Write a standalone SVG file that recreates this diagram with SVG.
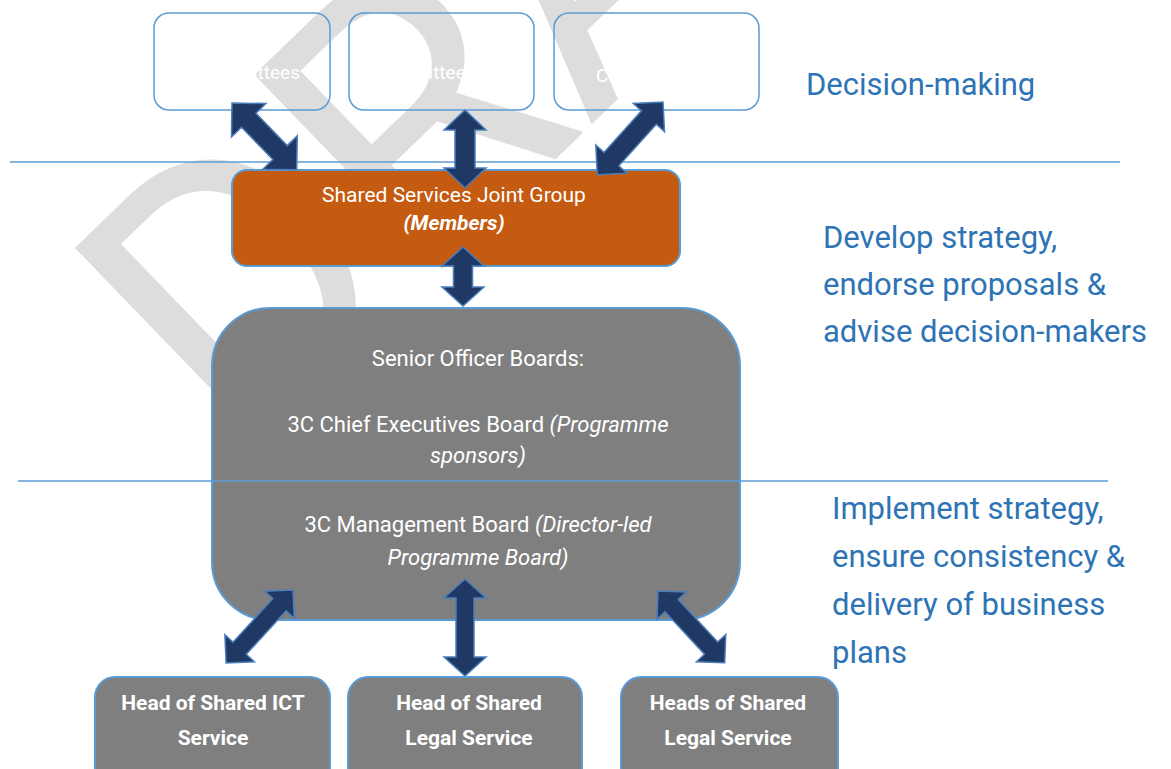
<svg xmlns="http://www.w3.org/2000/svg" width="1171" height="769" viewBox="0 0 1171 769">
<style>
.t{font-family:Roboto,"Liberation Sans",sans-serif;fill:#fff}
.lbl{font-family:Roboto,"Liberation Sans",sans-serif;fill:#2e74b5;font-size:31px}
.box{fill:none;stroke:#5b9bd5;stroke-width:1.5}
.node{stroke:#5b9bd5;stroke-width:2}
.arr{fill:#1f3864;stroke:#4a7ebb;stroke-width:1.5}
.ln{stroke:#5b9bd5;stroke-width:1.5;fill:none}
.i{font-style:italic}
</style>
<rect width="1171" height="769" fill="#fff"/>
<text id="watermark" transform="translate(240,464) rotate(-44)" font-family="Roboto,sans-serif" font-size="380" fill="#dddddd">DRAFT</text>

<g id="box-committees-1">
<rect class="box" x="154" y="13" width="176" height="97" rx="15"/>
<text class="t" x="300" y="79" font-size="19" text-anchor="end">Committees</text>
</g>
<g id="box-committees-2">
<rect class="box" x="349" y="13" width="185" height="97" rx="15"/>
<text class="t" x="372" y="79" font-size="19">Committees</text>
</g>
<g id="box-scdc">
<rect class="box" x="554" y="13" width="205" height="97" rx="15"/>
<text class="t" x="619" y="47" font-size="19">SCDC</text>
<text class="t" x="596" y="82" font-size="19">Committees</text>
</g>

<g id="node-ssjg">
<rect class="node" x="232" y="170" width="448" height="96" rx="15" fill="#c55a11"/>
<text class="t" x="454" y="202" font-size="21" text-anchor="middle">Shared Services Joint Group</text>
<text class="t" x="454" y="230" font-size="21" text-anchor="middle" font-weight="bold" font-style="italic">(Members)</text>
</g>

<g id="node-boards">
<rect class="node" x="212" y="308" width="528" height="312" rx="58" fill="#7f7f7f"/>
<text class="t" x="478" y="366" font-size="22" text-anchor="middle">Senior Officer Boards:</text>
<text class="t" x="478" y="432" font-size="22" text-anchor="middle">3C Chief Executives Board <tspan class="i">(Programme</tspan></text>
<text class="t i" x="478" y="463" font-size="22" text-anchor="middle">sponsors)</text>
<text class="t" x="478" y="532" font-size="22" text-anchor="middle">3C Management Board <tspan class="i">(Director-led</tspan></text>
<text class="t i" x="478" y="565" font-size="22" text-anchor="middle">Programme Board)</text>
</g>

<g id="dividers">
<line class="ln" x1="10" y1="162" x2="1120" y2="162"/>
<line class="ln" x1="18" y1="481" x2="1108" y2="481"/>
</g>

<g id="connectors">
<polygon class="arr" transform="translate(232,103) rotate(45.9)" points="0,0 24,-24 24,-10 69,-10 69,-24 93,0 69,24 69,10 24,10 24,24"/>
<polygon class="arr" transform="translate(465,110) rotate(90)" points="0,0 20,-21 20,-10 58,-10 58,-21 78,0 58,21 58,10 20,10 20,21"/>
<polygon class="arr" transform="translate(663,102) rotate(132.1)" points="0,0 21,-21 21,-10 77,-10 77,-21 98,0 77,21 77,10 21,10 21,21"/>
<polygon class="arr" transform="translate(463,247) rotate(90)" points="0,0 19,-21 19,-9.5 40,-9.5 40,-21 59,0 40,21 40,9.5 19,9.5 19,21"/>
<polygon class="arr" transform="translate(293,590) rotate(132.5)" points="0,0 20,-20 20,-9 79,-9 79,-20 99,0 79,20 79,9 20,9 20,20"/>
<polygon class="arr" transform="translate(465,579) rotate(90)" points="0,0 19,-21 19,-9 78,-9 78,-21 97,0 78,21 78,9 19,9 19,21"/>
<polygon class="arr" transform="translate(658,591) rotate(47.1)" points="0,0 20,-20 20,-9 78,-9 78,-20 98,0 78,20 78,9 20,9 20,20"/>
</g>

<g id="node-ict">
<rect class="node" x="95" y="677" width="235" height="110" rx="20" fill="#7f7f7f"/>
<text class="t" x="213" y="710" font-size="21" font-weight="bold" text-anchor="middle">Head of Shared ICT</text>
<text class="t" x="213" y="745" font-size="21" font-weight="bold" text-anchor="middle">Service</text>
</g>
<g id="node-legal-1">
<rect class="node" x="348" y="677" width="234" height="110" rx="20" fill="#7f7f7f"/>
<text class="t" x="469" y="710" font-size="21" font-weight="bold" text-anchor="middle">Head of Shared</text>
<text class="t" x="469" y="745" font-size="21" font-weight="bold" text-anchor="middle">Legal Service</text>
</g>
<g id="node-legal-2">
<rect class="node" x="621" y="677" width="217" height="110" rx="20" fill="#7f7f7f"/>
<text class="t" x="728" y="710" font-size="21" font-weight="bold" text-anchor="middle">Heads of Shared</text>
<text class="t" x="728" y="745" font-size="21" font-weight="bold" text-anchor="middle">Legal Service</text>
</g>

<g id="labels">
<text class="lbl" x="806" y="95" font-size="30">Decision-making</text>
<text class="lbl" x="823" y="248">Develop strategy,</text>
<text class="lbl" x="823" y="295">endorse proposals &amp;</text>
<text class="lbl" x="823" y="342">advise decision-makers</text>
<text class="lbl" x="832" y="519">Implement strategy,</text>
<text class="lbl" x="832" y="567">ensure consistency &amp;</text>
<text class="lbl" x="832" y="615">delivery of business</text>
<text class="lbl" x="832" y="663">plans</text>
</g>
</svg>
